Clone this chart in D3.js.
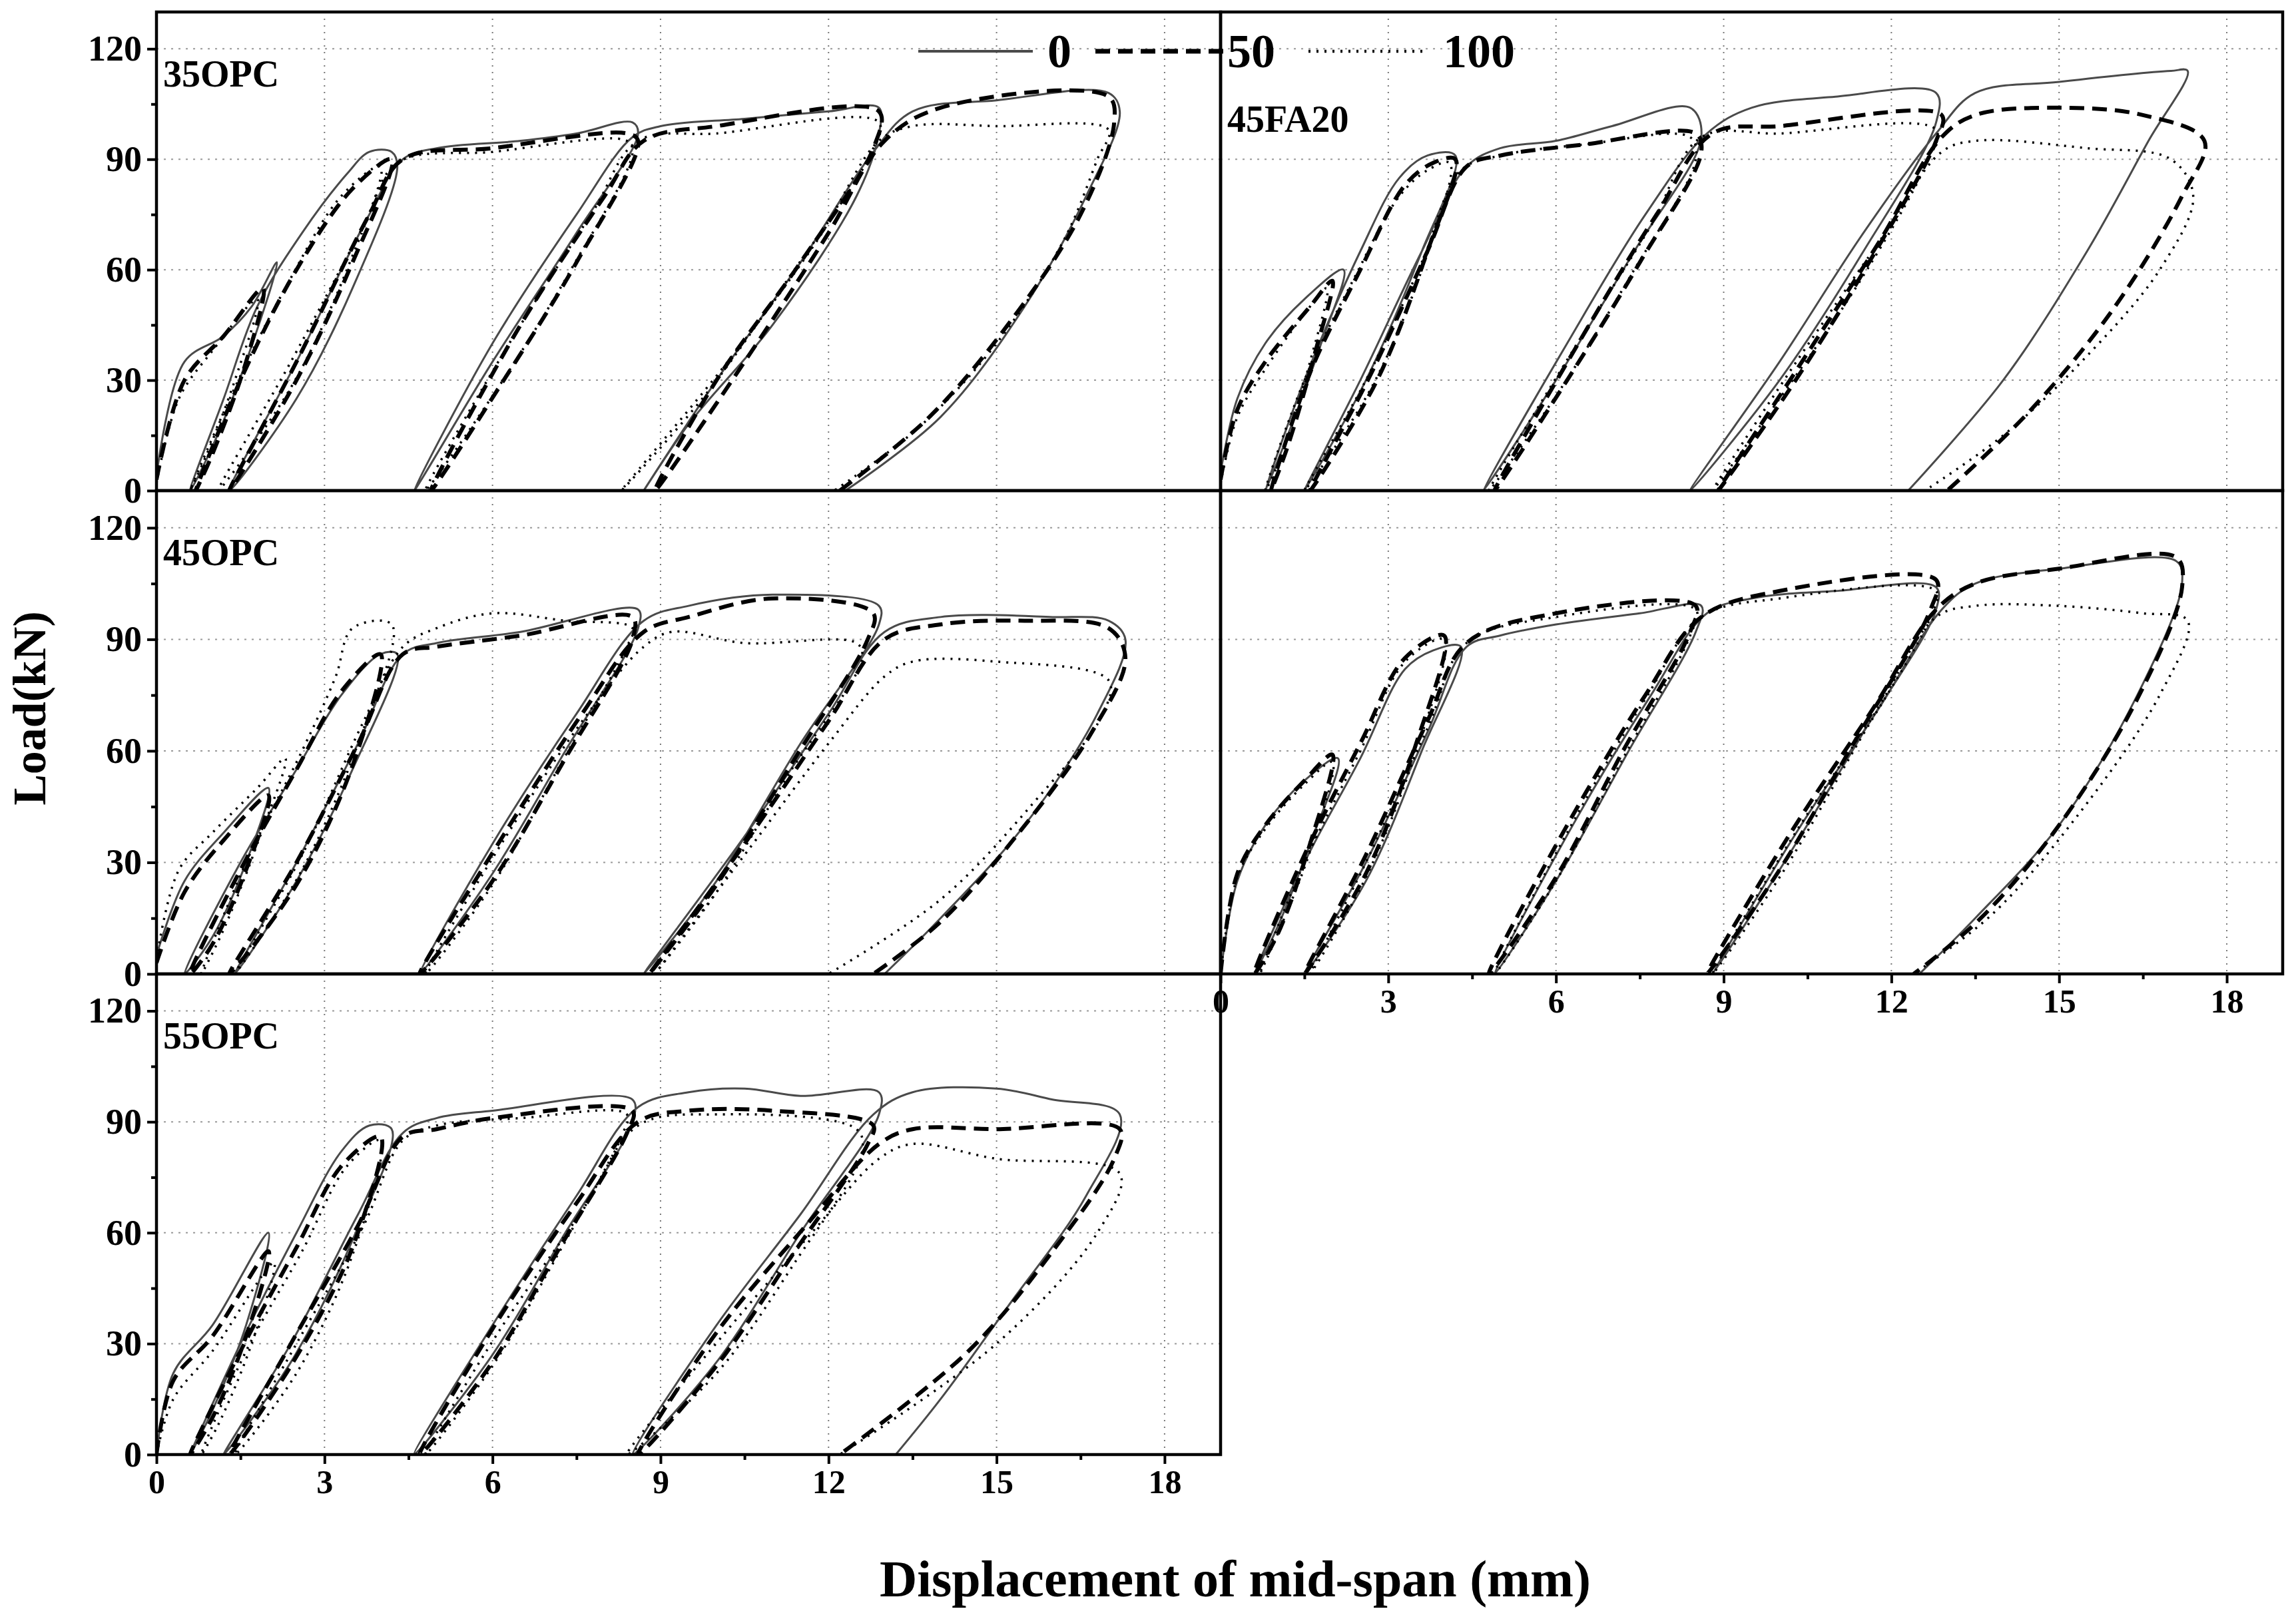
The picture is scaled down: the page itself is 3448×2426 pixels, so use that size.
<!DOCTYPE html>
<html><head><meta charset="utf-8">
<script src="https://cdn.jsdelivr.net/npm/d3@7"></script>
<style>body{margin:0;background:#fff}</style></head>
<body><svg id="c" width="3448" height="2426"></svg>
<script>
const seriesNames = ["0","50","100"];
const xTicks = [0,3,6,9,12,15,18];
const yTicks = [0,30,60,90,120];
const panelNames = ["35OPC","45FA20","45OPC","","55OPC"];

const p35_0 = [[0,4],[0.5,35],[1.2,42],[1.7,50],[2.15,62],[1.6,35],[1.0,12],[0.6,0],[1.2,25],[1.8,50],[2.6,70],[3.4,86],[3.8,92],[4.2,92],[4.3,88],[3.5,55],[2.5,25],[1.3,0],[2.5,35],[3.8,75],[4.4,90],[5,93],[6.5,95],[7.5,97],[8.5,100],[8.6,97],[7.5,70],[6,35],[4.6,0],[6,40],[7.5,75],[8.5,96],[9,99],[10.5,101],[12,103],[12.9,104],[12.9,97],[12.5,80],[11,45],[9.5,18],[8.7,0],[10,30],[11.5,62],[12.8,92],[13.5,103],[15,106],[17,108],[17.2,103],[16.6,80],[15.5,50],[14,20],[12.3,0]];
const p35_1 = [[0,3],[0.5,30],[1.2,42],[1.9,55],[1.6,35],[1.0,10],[0.7,0],[1.5,30],[2.5,60],[3.5,82],[4.2,90],[3.5,62],[2.5,30],[1.3,0],[2.5,35],[3.8,75],[4.4,90],[6,93],[8.4,97],[8.6,95],[7.5,62],[6.2,30],[4.9,0],[6.5,45],[8,80],[8.7,95],[10,99],[12.9,103],[12.8,93],[11.5,62],[10,30],[8.9,0],[10.5,35],[12,70],[13,95],[14,104],[17,107],[17.1,100],[16.5,75],[15.2,45],[13.8,20],[12.2,0]];
const p35_2 = [[0,2],[0.4,25],[1.0,38],[1.8,52],[1.4,30],[0.9,10],[0.6,0],[1.4,28],[2.3,55],[3.3,80],[4.0,88],[3.4,60],[2.4,28],[1.1,0],[2.4,35],[3.7,72],[4.3,89],[6,92],[8.4,95],[8.5,92],[7.4,60],[6.1,28],[4.8,0],[6.3,40],[7.8,76],[8.6,95],[10,97],[12.9,100],[12.7,90],[11.3,58],[9.8,26],[8.3,0],[10.2,35],[11.8,68],[12.9,95],[13.5,99],[15,99],[17,98],[16.8,90],[16.2,68],[15,40],[13.6,17],[12.1,0]];

const fa_0 = [[0,5],[0.3,25],[0.8,40],[1.5,52],[2.2,60],[1.8,40],[1.2,15],[0.8,0],[1.5,30],[2.5,65],[3.2,85],[3.7,91],[4.2,91],[3.6,65],[2.6,30],[1.5,0],[2.5,30],[3.6,65],[4.4,88],[5,93],[6,95],[7,99],[8.4,104],[8.6,96],[7.4,65],[6,30],[4.7,0],[6.2,40],[7.6,75],[8.7,97],[9.5,104],[11,107],[12.8,108],[12.8,100],[11.5,65],[10,30],[8.4,0],[10,35],[11.5,70],[12.8,97],[13.5,108],[15,111],[17,114],[17.3,114],[16.6,95],[15.5,65],[14,30],[12.3,0]];
const fa_1 = [[0,3],[0.3,22],[0.8,35],[1.6,50],[2.0,57],[1.7,38],[1.2,12],[0.9,0],[1.6,32],[2.5,60],[3.3,83],[3.8,89],[4.2,90],[3.7,65],[2.8,30],[1.6,0],[2.7,32],[3.7,65],[4.4,88],[5,91],[6.5,94],[8.5,97],[8.6,92],[7.5,62],[6.2,30],[4.9,0],[6.4,40],[7.8,75],[8.8,97],[10,99],[12.9,102],[12.8,95],[11.6,62],[10.2,28],[8.9,0],[10.4,35],[11.8,68],[12.9,96],[13.5,102],[15,104],[16.5,102],[17.6,95],[17.2,80],[16,50],[14.5,22],[13,0]];
const fa_2 = [[0,2],[0.3,20],[0.8,33],[1.5,48],[1.9,55],[1.6,35],[1.1,10],[0.8,0],[1.5,30],[2.4,58],[3.2,80],[3.7,87],[4.1,89],[3.6,60],[2.7,28],[1.5,0],[2.6,30],[3.6,62],[4.3,87],[5,91],[6.5,94],[8.4,96],[8.5,90],[7.4,60],[6.1,28],[4.8,0],[6.3,38],[7.7,72],[8.6,96],[10,97],[12.8,98],[12.6,88],[11.4,56],[10,25],[8.8,0],[10.3,35],[11.8,68],[12.9,92],[13.5,95],[15.5,93],[17,90],[17.4,80],[16.8,60],[15.4,35],[14,15],[12.6,0]];

const p45_0 = [[0,5],[0.5,25],[1.2,38],[2.0,50],[1.6,30],[1.0,10],[0.5,0],[1.5,30],[2.5,55],[3.3,75],[4.0,86],[4.3,86],[3.5,55],[2.5,25],[1.4,0],[2.5,30],[3.6,62],[4.4,86],[5,89],[6.5,92],[8.6,98],[8.6,93],[7.3,60],[6,27],[4.7,0],[6,35],[7.5,70],[8.7,95],[9.5,99],[11,102],[12.9,99],[12.9,94],[11.5,62],[10,25],[8.7,0],[10.5,37],[12,70],[13,92],[14,96],[16,96],[17,95],[17.3,90],[16.8,70],[15.5,40],[14,15],[13,0]];
const p45_1 = [[0,3],[0.5,22],[1.2,36],[2.0,48],[1.6,28],[1.0,8],[0.6,0],[1.5,28],[2.5,55],[3.3,76],[4.0,86],[3.5,56],[2.5,24],[1.3,0],[2.5,30],[3.6,62],[4.4,86],[5,88],[6.5,91],[8.5,96],[8.5,90],[7.3,58],[6,25],[4.7,0],[6.1,35],[7.6,70],[8.7,92],[9.5,96],[11,101],[12.8,97],[12.7,90],[11.4,58],[10,24],[8.8,0],[10.5,35],[12,68],[13,90],[14,94],[15.5,95],[17,93],[17.3,85],[16.7,65],[15.4,38],[14,14],[12.8,0]];
const p45_2 = [[0,4],[0.4,28],[1.0,38],[1.8,50],[2.3,58],[1.8,35],[1.2,12],[0.8,0],[1.6,30],[2.6,60],[3.2,80],[3.5,93],[4.2,94],[3.6,62],[2.6,28],[1.4,0],[2.6,32],[3.7,68],[4.4,88],[5,93],[6,97],[7.3,95],[8.5,93],[8.4,88],[7.2,56],[6,24],[4.8,0],[6.2,36],[7.7,70],[8.7,88],[9.2,92],[10.5,89],[12.5,89],[12.6,85],[11.3,54],[10,22],[8.9,0],[10.6,34],[12,62],[13,80],[13.5,84],[15,84],[17,79],[16.9,70],[15.6,45],[14,20],[12,0]];

const d_0 = [[0,0],[0.3,25],[0.8,40],[1.5,52],[2.1,58],[1.6,35],[1.0,12],[0.6,0],[1.5,30],[2.5,58],[3.3,82],[3.8,87],[4.3,88],[3.6,60],[2.6,25],[1.5,0],[2.6,30],[3.7,65],[4.4,88],[5,91],[6,94],[7.5,97],[8.6,99],[8.5,92],[7.3,60],[6,25],[4.9,0],[6.3,40],[7.7,75],[8.7,97],[9.5,101],[11,103],[12.8,104],[12.8,98],[11.5,65],[10,28],[8.8,0],[10.3,38],[11.8,72],[12.9,98],[13.5,105],[15,109],[17.1,111],[17.2,105],[16.4,75],[15,40],[13.5,15],[12.5,0]];
const d_1 = [[0,0],[0.3,27],[0.8,40],[1.5,52],[2.0,59],[1.6,35],[1.0,10],[0.6,0],[1.5,32],[2.5,62],[3.3,85],[4.0,91],[3.5,62],[2.6,27],[1.5,0],[2.6,32],[3.7,68],[4.4,89],[6,97],[8.5,99],[8.4,92],[7.2,60],[6,26],[4.8,0],[6.2,40],[7.6,75],[8.6,96],[10,103],[12.8,106],[12.7,98],[11.4,64],[10,28],[8.7,0],[10.2,38],[11.7,72],[12.8,98],[13.5,105],[15,109],[17.1,112],[17.2,104],[16.4,74],[15,40],[13.6,15],[12.4,0]];
const d_2 = [[0,0],[0.3,26],[0.8,39],[1.5,51],[2.0,57],[1.6,33],[1.0,10],[0.7,0],[1.5,30],[2.5,60],[3.3,84],[4.0,90],[3.5,60],[2.6,26],[1.6,0],[2.6,30],[3.7,66],[4.4,89],[6,96],[8.5,98],[8.4,91],[7.2,58],[6,25],[4.9,0],[6.2,38],[7.6,74],[8.6,96],[10,101],[12.8,103],[12.7,96],[11.4,62],[10,26],[8.8,0],[10.2,36],[11.7,70],[12.8,96],[13.5,99],[15,99],[16.5,97],[17.3,95],[16.8,75],[15.3,42],[13.8,16],[12.4,0]];

const e_0 = [[0,0],[0.3,22],[1,35],[2.0,60],[1.6,35],[1.0,12],[0.6,0],[1.5,30],[2.5,60],[3.3,82],[3.8,89],[4.2,88],[3.5,58],[2.4,25],[1.2,0],[2.4,30],[3.6,65],[4.4,87],[5,91],[6,93],[8.5,96],[8.5,90],[7.3,60],[6,27],[4.6,0],[6,35],[7.5,70],[8.6,94],[9.5,98],[10.5,99],[11.5,97],[12.9,98],[12.9,92],[11.5,60],[10,25],[8.5,0],[10,35],[11.5,65],[12.8,92],[13.5,98],[15,99],[16,96],[17.2,92],[16.6,70],[15.2,40],[14,15],[13.2,0]];
const e_1 = [[0,0],[0.3,20],[1,32],[2.0,55],[1.6,32],[1.0,10],[0.6,0],[1.5,28],[2.5,56],[3.3,78],[4.0,86],[3.5,56],[2.4,24],[1.3,0],[2.4,30],[3.6,62],[4.4,86],[5,88],[6,91],[8.5,93],[8.4,87],[7.2,56],[6,25],[4.7,0],[6,34],[7.5,68],[8.6,90],[9.5,93],[11,93],[12.8,89],[12.7,84],[11.4,55],[10,24],[8.6,0],[10,33],[11.6,62],[12.9,84],[13.5,88],[15,88],[17.2,88],[17.1,80],[16,55],[14.5,28],[12.2,0]];
const e_2 = [[0,0],[0.3,15],[1,28],[2.1,52],[1.7,30],[1.1,8],[0.8,0],[1.6,28],[2.6,55],[3.4,78],[4.0,85],[3.5,54],[2.5,22],[1.4,0],[2.5,30],[3.7,62],[4.4,85],[5,89],[6.5,91],[8.4,92],[8.3,86],[7.2,55],[6,24],[4.8,0],[6.1,33],[7.6,66],[8.6,89],[10,92],[12.5,88],[12.6,82],[11.4,52],[10,22],[8.4,0],[10.1,32],[11.7,60],[12.9,80],[13.5,84],[15,80],[17.2,76],[16.8,60],[15,30],[12.2,0]];

const panelData = [[p35_0,p35_1,p35_2],[fa_0,fa_1,fa_2],[p45_0,p45_1,p45_2],[d_0,d_1,d_2],[e_0,e_1,e_2]];

const svg = d3.select("#c");
const font = "'Liberation Serif','Times New Roman',serif";
const L=235, M=1833, R=3428;
const rowsY = [[18,737],[737,1463],[1463,2185]];
const panels = [
 {x0:L,x1:M,r:0,yl:true,xl:false},
 {x0:M,x1:R,r:0,yl:false,xl:false},
 {x0:L,x1:M,r:1,yl:true,xl:false},
 {x0:M,x1:R,r:1,yl:false,xl:true},
 {x0:L,x1:M,r:2,yl:true,xl:true}];
const styles = [
 {stroke:"#4a4a4a",w:3,dash:null},
 {stroke:"#000",w:6,dash:"22,12"},
 {stroke:"#000",w:3.5,dash:"3,9"}];

panels.forEach((p,i)=>{
  const [yt,yb]=rowsY[p.r];
  const x=d3.scaleLinear().domain([0,19]).range([p.x0,p.x1]);
  const y=d3.scaleLinear().domain([0,130]).range([yb,yt]);
  const g=svg.append("g");
  g.selectAll(".gx").data(xTicks.slice(1)).join("line").attr("x1",d=>x(d)).attr("x2",d=>x(d)).attr("y1",yt).attr("y2",yb)
   .attr("stroke","#777").attr("stroke-width",2).attr("stroke-dasharray","2,8");
  g.selectAll(".gy").data(yTicks.slice(1)).join("line").attr("y1",d=>y(d)).attr("y2",d=>y(d)).attr("x1",p.x0).attr("x2",p.x1)
   .attr("stroke","#999").attr("stroke-width",2).attr("stroke-dasharray","3,8");
  const line=d3.line().x(d=>x(d[0])).y(d=>y(d[1])).curve(d3.curveCatmullRom.alpha(0.5));
  const clip="cl"+i;
  svg.append("clipPath").attr("id",clip).append("rect").attr("x",p.x0).attr("y",yt).attr("width",p.x1-p.x0).attr("height",yb-yt);
  panelData[i].forEach((s,j)=>{
    g.append("path").attr("d",line(s)).attr("fill","none").attr("clip-path",`url(#${clip})`)
     .attr("stroke",styles[j].stroke).attr("stroke-width",styles[j].w).attr("stroke-dasharray",styles[j].dash)
     .attr("stroke-linejoin","round");
  });
  g.append("rect").attr("x",p.x0).attr("y",yt).attr("width",p.x1-p.x0).attr("height",yb-yt)
   .attr("fill","none").attr("stroke","#000").attr("stroke-width",4.5);
  if(p.yl){
    const ax=d3.axisLeft(y).tickValues(yTicks).tickSize(14).tickPadding(8);
    const ga=g.append("g").attr("transform",`translate(${p.x0},0)`).call(ax);
    ga.select(".domain").remove();
    ga.selectAll("line").attr("stroke-width",4);
    ga.selectAll("text").attr("font-family",font).attr("font-weight","bold").attr("font-size",54).attr("fill","#000");
    const am=d3.axisLeft(y).tickValues([15,45,75,105]).tickSize(8).tickFormat("");
    const gm=g.append("g").attr("transform",`translate(${p.x0},0)`).call(am);
    gm.select(".domain").remove(); gm.selectAll("line").attr("stroke-width",4);
  }
  if(p.xl){
    const ax=d3.axisBottom(x).tickValues(xTicks).tickSize(14).tickPadding(8);
    const ga=g.append("g").attr("transform",`translate(0,${yb})`).call(ax);
    ga.select(".domain").remove();
    ga.selectAll("line").attr("stroke-width",4);
    ga.selectAll("text").attr("font-family",font).attr("font-weight","bold").attr("font-size",50).attr("fill","#000");
    const am=d3.axisBottom(x).tickValues([1.5,4.5,7.5,10.5,13.5,16.5]).tickSize(8).tickFormat("");
    const gm=g.append("g").attr("transform",`translate(0,${yb})`).call(am);
    gm.select(".domain").remove(); gm.selectAll("line").attr("stroke-width",4);
  }
  if(panelNames[i]){
    const ly = i===1 ? yt+180 : yt+112;
    g.append("text").attr("x",p.x0+10).attr("y",ly).text(panelNames[i])
     .attr("font-family",font).attr("font-weight","bold").attr("font-size",56);
  }
});
const legX=[[1379,1551,1573],[1645,1837,1843],[1965,2145,2167]];
const legY=77;
legX.forEach((lx,j)=>{
  svg.append("line").attr("x1",lx[0]).attr("x2",lx[1]).attr("y1",legY).attr("y2",legY)
   .attr("stroke",styles[j].stroke).attr("stroke-width",styles[j].w+1).attr("stroke-dasharray",styles[j].dash);
  svg.append("text").attr("x",lx[2]).attr("y",legY+24).text(seriesNames[j])
   .attr("font-family",font).attr("font-weight","bold").attr("font-size",72);
});
svg.append("text").attr("transform","translate(68,1064) rotate(-90)").attr("text-anchor","middle")
 .text("Load(kN)").attr("font-family",font).attr("font-weight","bold").attr("font-size",70);
svg.append("text").attr("x",1855).attr("y",2398).attr("text-anchor","middle")
 .text("Displacement of mid-span (mm)").attr("font-family",font).attr("font-weight","bold").attr("font-size",78);
</script></body></html>
